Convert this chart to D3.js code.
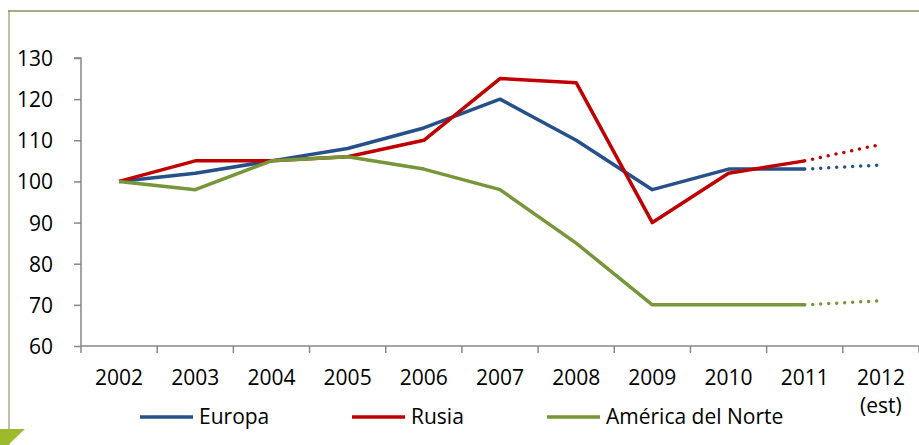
<!DOCTYPE html>
<html>
<head>
<meta charset="utf-8">
<script src="https://cdn.jsdelivr.net/npm/d3@7"></script>
<style>
  body { margin: 0; background: #fff; }
  text { font-family: "Open Sans", sans-serif; fill: #000; }
</style>
</head>
<body>
<div id="chart"></div>
<script>
// data
var years = ["2002", "2003", "2004", "2005", "2006", "2007", "2008", "2009", "2010", "2011", "2012"];
var europa = [100, 102, 105, 108, 113, 120, 110, 98, 103, 103, 104];
var rusia = [100, 105, 105, 106, 110, 125, 124, 90, 102, 105, 109];
var americaNorte = [100, 98, 105, 106, 103, 98, 85, 70, 70, 70, 71];
var yTicks = [60, 70, 80, 90, 100, 110, 120, 130];

var series = [
  { name: "Europa", values: europa, color: "#26508a", legendX: 140 },
  { name: "Rusia", values: rusia, color: "#c00000", legendX: 352 },
  { name: "América del Norte", values: americaNorte, color: "#77963a", legendX: 547 }
];

var svgWidth = 919;
var svgHeight = 445;
var margin = { top: 58, right: 0, bottom: 99, left: 81 };
var width = svgWidth - margin.left - margin.right;
var height = svgHeight - margin.top - margin.bottom;

var svg = d3.select("#chart")
  .append("svg")
  .attr("width", svgWidth)
  .attr("height", svgHeight);

// frame decoration
svg.append("line")
  .attr("x1", 8).attr("x2", 919).attr("y1", 11).attr("y2", 11)
  .attr("stroke", "#a3ad8b").attr("stroke-width", 2);
svg.append("line")
  .attr("x1", 9).attr("x2", 9).attr("y1", 10).attr("y2", 445)
  .attr("stroke", "#8f9c66").attr("stroke-width", 1.2);
svg.append("path")
  .attr("d", "M0,429 L25,429 L8,445 L0,445 Z")
  .attr("fill", "#9cba2c");

var chart = svg.append("g")
  .attr("transform", "translate(" + margin.left + "," + margin.top + ")");

var xBand = d3.scaleBand().domain(years).range([0, width]);
var yScale = d3.scaleLinear().domain([60, 130]).range([height, 0]);

function xCenter(yr) { return xBand(yr) + xBand.bandwidth() / 2; }

// y axis
var leftAxis = d3.axisLeft(yScale).tickValues(yTicks).tickSize(7).tickPadding(21);
var gy = chart.append("g").call(leftAxis);
gy.select(".domain").attr("stroke", "#878787").attr("stroke-width", 1.5).attr("d", "M-7,0H0V" + height);
gy.selectAll(".tick line").attr("stroke", "#878787").attr("stroke-width", 1.5);
gy.selectAll(".tick text").style("font-size", "21px").attr("dy", "0.36em");

// x axis with ticks between categories
var gx = chart.append("g").attr("transform", "translate(0," + height + ")");
gx.append("line")
  .attr("x1", 0).attr("x2", width).attr("y1", 0).attr("y2", 0)
  .attr("stroke", "#878787").attr("stroke-width", 1.5);
gx.selectAll(".xtick")
  .data(years.concat(["end"]))
  .enter()
  .append("line")
  .attr("class", "xtick")
  .attr("x1", function(d, i) { return i < years.length ? xBand(d) : width; })
  .attr("x2", function(d, i) { return i < years.length ? xBand(d) : width; })
  .attr("y1", 0).attr("y2", 7)
  .attr("stroke", "#878787").attr("stroke-width", 1.5);
gx.selectAll(".xlabel")
  .data(years)
  .enter()
  .append("text")
  .attr("class", "xlabel")
  .attr("x", function(d) { return xCenter(d); })
  .attr("y", 39)
  .attr("text-anchor", "middle")
  .style("font-size", "21px")
  .text(function(d) { return d; });
gx.append("text")
  .attr("x", xCenter("2012"))
  .attr("y", 67)
  .attr("text-anchor", "middle")
  .style("font-size", "21px")
  .text("(est)");

// lines: solid up to 2011, dotted to 2012 estimate
var line = d3.line()
  .x(function(d) { return xCenter(d.year); })
  .y(function(d) { return yScale(d.value); });

series.forEach(function(s) {
  var pts = years.map(function(yr, i) { return { year: yr, value: s.values[i] }; });
  var solid = pts.slice(0, pts.length - 1);
  var est = pts.slice(pts.length - 2);

  chart.append("path")
    .datum(solid)
    .attr("d", line)
    .attr("fill", "none")
    .attr("stroke", s.color)
    .attr("stroke-width", 3.5)
    .attr("stroke-linejoin", "round");

  chart.append("path")
    .datum(est)
    .attr("d", line)
    .attr("fill", "none")
    .attr("stroke", s.color)
    .attr("stroke-width", 3.5)
    .attr("stroke-linecap", "round")
    .attr("stroke-dasharray", "0 8")
    .attr("stroke-dashoffset", -8);
});

// legend
var legend = svg.append("g");
series.forEach(function(s) {
  legend.append("line")
    .attr("x1", s.legendX).attr("x2", s.legendX + 53)
    .attr("y1", 417).attr("y2", 417)
    .attr("stroke", s.color).attr("stroke-width", 3.5);
  legend.append("text")
    .attr("x", s.legendX + 59)
    .attr("y", 424)
    .style("font-size", "21px")
    .text(s.name);
});
</script>
</body>
</html>
